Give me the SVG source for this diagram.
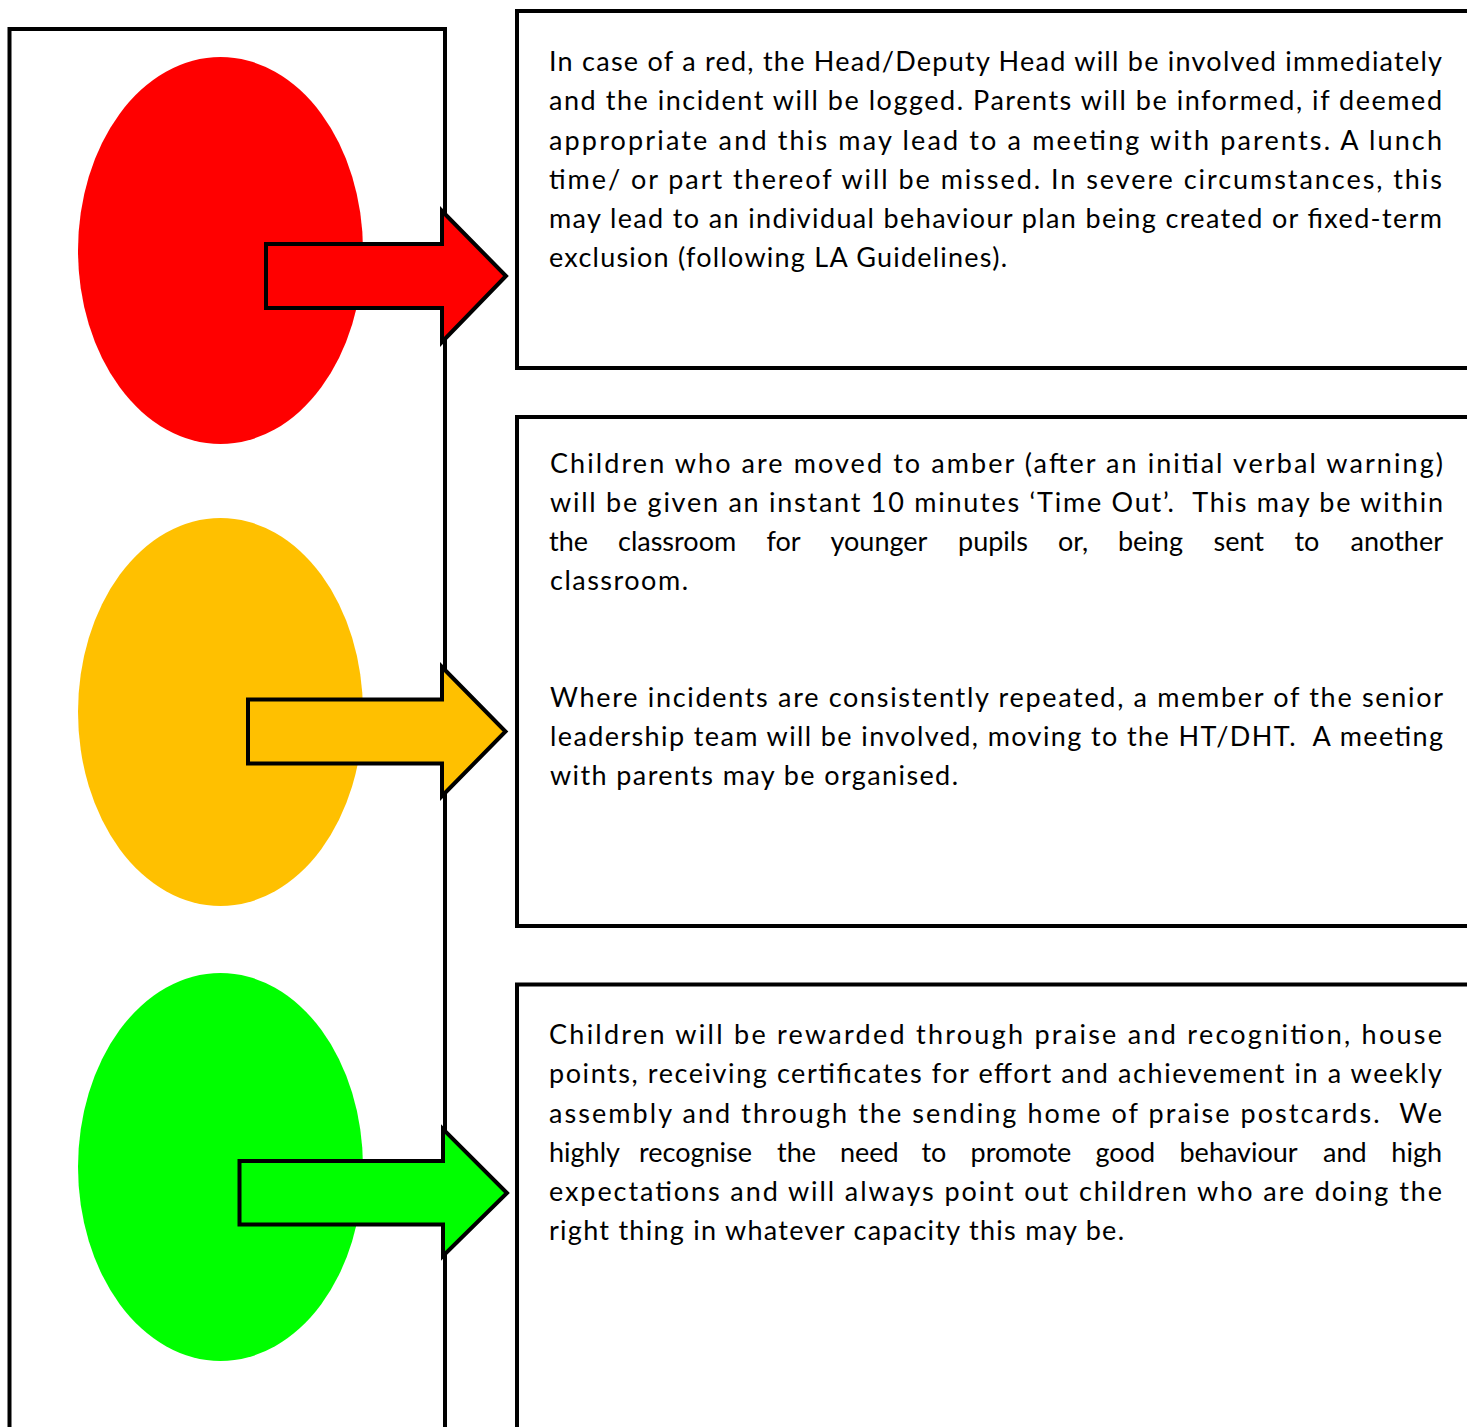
<svg xmlns="http://www.w3.org/2000/svg" width="1467" height="1427" viewBox="0 0 1467 1427">
<style>
.frame{fill:#fff;stroke:#000;stroke-width:4}
.arrow{stroke:#000;stroke-width:4;stroke-linejoin:miter}
.t{font-family:Lato,"Liberation Sans",sans-serif;font-size:27px;fill:#000}
.e{text-anchor:end}
</style>
<rect width="1467" height="1427" fill="#fff"/>
<g id="light-housing">
<rect class="frame" x="9.5" y="29" width="435.5" height="1420"/>
</g>
<g id="red-light"><ellipse cx="220.5" cy="250.5" rx="142.5" ry="193.5" fill="#FF0000"/></g>
<g id="amber-light"><ellipse cx="220.5" cy="712" rx="142.5" ry="194" fill="#FFC000"/></g>
<g id="green-light"><ellipse cx="220.5" cy="1167" rx="142.5" ry="194" fill="#00FF00"/></g>
<g id="connectors">
<polygon class="arrow" fill="#FF0000" points="266,244 442,244 442,211 506,276 442,342 442,308 266,308"/>
<polygon class="arrow" fill="#FFC000" points="248,699.5 442,699.5 442,667 505.5,731.5 442,796 442,763.5 248,763.5"/>
<polygon class="arrow" fill="#00FF00" points="239.5,1161 443,1161 443,1129 507,1193 443,1256 443,1224.5 239.5,1224.5"/>
</g>
<g id="red-box">
<rect class="frame" x="517" y="11" width="970" height="357"/>
<text class="t" x="549" y="71" textLength="893" lengthAdjust="spacing">In case of a red, the Head/Deputy Head will be involved immediately</text>
<text class="t" x="549" y="110" textLength="893" lengthAdjust="spacing">and the incident will be logged. Parents will be informed, if deemed</text>
<text class="t" x="549" y="149.5" textLength="893" lengthAdjust="spacing">appropriate and this may lead to a meeting with parents. A lunch</text>
<text class="t" x="549" y="188.5" textLength="893" lengthAdjust="spacing">time/ or part thereof will be missed. In severe circumstances, this</text>
<text class="t" x="549" y="228" textLength="893" lengthAdjust="spacing">may lead to an individual behaviour plan being created or fixed-term</text>
<text class="t" x="549" y="267" textLength="458" lengthAdjust="spacing">exclusion (following LA Guidelines).</text>
</g>
<g id="amber-box">
<rect class="frame" x="517" y="417" width="970" height="509"/>
<text class="t" x="550" y="473" textLength="893" lengthAdjust="spacing">Children who are moved to amber (after an initial verbal warning)</text>
<text class="t" x="550" y="512" textLength="893" lengthAdjust="spacing" xml:space="preserve">will be given an instant 10 minutes ‘Time Out’.  This may be within</text>
<text class="t" y="551"><tspan x="549">the</tspan> <tspan x="618">classroom</tspan> <tspan x="766.5">for</tspan> <tspan x="830.5">younger</tspan> <tspan x="958">pupils</tspan> <tspan x="1058">or,</tspan> <tspan x="1118">being</tspan> <tspan x="1213.5">sent</tspan> <tspan x="1294.5">to</tspan></text>
<text class="t e" x="1443" y="551">another</text>
<text class="t" x="550" y="590" textLength="138" lengthAdjust="spacing">classroom.</text>
<text class="t" x="550" y="707" textLength="893" lengthAdjust="spacing">Where incidents are consistently repeated, a member of the senior</text>
<text class="t" x="550" y="746" textLength="893" lengthAdjust="spacing" xml:space="preserve">leadership team will be involved, moving to the HT/DHT.  A meeting</text>
<text class="t" x="550" y="785" textLength="408" lengthAdjust="spacing">with parents may be organised.</text>
</g>
<g id="green-box">
<rect class="frame" x="517" y="984.5" width="970" height="470"/>
<text class="t" x="549" y="1044" textLength="893" lengthAdjust="spacing">Children will be rewarded through praise and recognition, house</text>
<text class="t" x="549" y="1083" textLength="893" lengthAdjust="spacing">points, receiving certificates for effort and achievement in a weekly</text>
<text class="t" x="549" y="1122.5" textLength="893" lengthAdjust="spacing" xml:space="preserve">assembly and through the sending home of praise postcards.  We</text>
<text class="t" y="1162"><tspan x="549">highly</tspan> <tspan x="639">recognise</tspan> <tspan x="777">the</tspan> <tspan x="840">need</tspan> <tspan x="921.5">to</tspan> <tspan x="970.5">promote</tspan> <tspan x="1095.5">good</tspan> <tspan x="1179.5">behaviour</tspan> <tspan x="1323">and</tspan></text>
<text class="t e" x="1442" y="1162">high</text>
<text class="t" x="549" y="1201" textLength="893" lengthAdjust="spacing">expectations and will always point out children who are doing the</text>
<text class="t" x="549" y="1240" textLength="575" lengthAdjust="spacing">right thing in whatever capacity this may be.</text>
</g>
</svg>
